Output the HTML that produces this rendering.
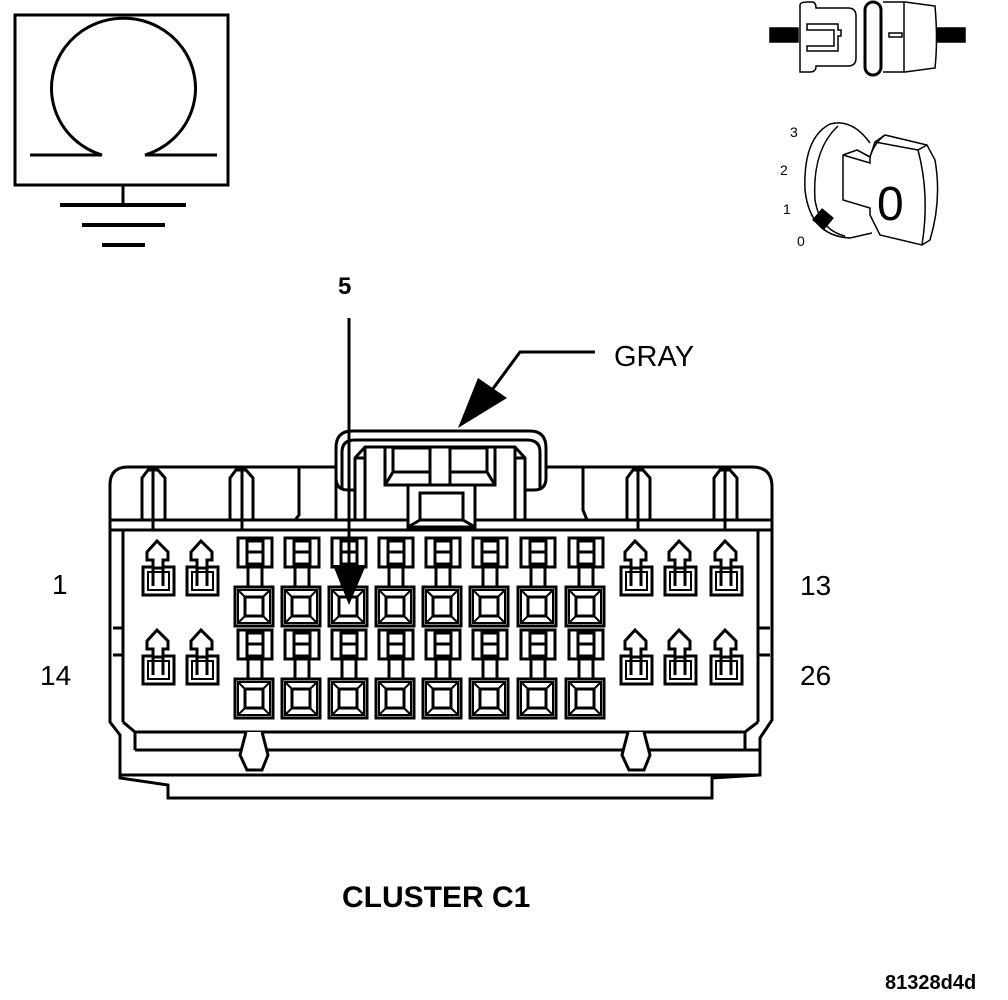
<!DOCTYPE html>
<html><head><style>html,body{margin:0;padding:0;background:#fff}svg{display:block}text{font-family:"Liberation Sans",sans-serif}</style></head><body>
<svg width="1008" height="1000" viewBox="0 0 1008 1000" xmlns="http://www.w3.org/2000/svg">
<defs>
<g id="pin" fill="none" stroke="#000" stroke-width="3">
<rect x="3" y="0" width="34" height="29" fill="#fff"/>
<rect x="12" y="3" width="16" height="23"/>
<line x1="12" y1="14" x2="28" y2="14"/>
<rect x="13" y="29" width="14" height="20" fill="#fff"/>
<rect x="0" y="49" width="38" height="39" fill="#fff"/>
<rect x="10" y="59" width="18" height="19"/>
<line x1="3" y1="52" x2="10" y2="59" stroke-width="2"/><line x1="35" y1="52" x2="28" y2="59" stroke-width="2"/>
<line x1="3" y1="85" x2="10" y2="78" stroke-width="2"/><line x1="35" y1="85" x2="28" y2="78" stroke-width="2"/>
<rect x="3" y="52" width="32" height="33" stroke-width="2"/>
</g>
<g id="lock" fill="none" stroke="#000" stroke-width="3">
<rect x="0" y="27" width="31" height="28" fill="#fff"/>
<rect x="5" y="32" width="21" height="18" stroke-width="2"/>
<path d="M10 46 V24 H20 V46"/>
<path d="M4 12 L14 1 L25 12 V20 H20 V28 H10 V20 H4 Z" fill="#fff"/>
</g>
</defs>
<g fill="none" stroke="#000" stroke-width="3">
<rect x="15" y="15" width="213" height="170"/>
<path d="M30 155 H102 A72 70 0 1 1 145 155 H217"/>
<line x1="123" y1="185" x2="123" y2="205"/>
<line x1="60" y1="205" x2="186" y2="205" stroke-width="4"/>
<line x1="82" y1="225" x2="165" y2="225" stroke-width="4"/>
<line x1="102" y1="245" x2="145" y2="245" stroke-width="4"/>
</g>
<!-- connector icon top right -->
<g fill="none" stroke="#000" stroke-width="1.5">
<rect x="770" y="28" width="28" height="14" fill="#000"/>
<rect x="937" y="28" width="28" height="14" fill="#000"/>
<path d="M800 5 Q800 2 808 2 H812 Q816 2 816 8 H848 Q856 8 856 16 V58 Q856 66 848 66 H816 Q816 72 810 72 H800 Z" fill="#fff"/>
<path d="M807 24 H838 V30 H841 V36 H838 V51 H807 V46 H834 V30 H807 Z"/>
<rect x="865" y="2" width="16" height="73" rx="8" stroke-width="3" fill="#fff"/>
<path d="M883 2 H905 L935 6 Q938 40 935 68 L905 72 H883"/>
<line x1="904" y1="2" x2="904" y2="72"/>
<rect x="889" y="33" width="13" height="4"/>
</g>
<!-- key -->
<g fill="none" stroke="#000" stroke-width="1.5">
<path d="M870 143 Q852 118 830 124 Q803 138 805 190 Q810 236 850 238 L872 233" fill="#fff"/>
<path d="M838 126 Q812 150 815 200 Q820 230 845 236"/>
<path d="M843 155 L857 150 L870 157 Q874 143 885 135 L927 145 L935 160 Q942 200 930 240 L922 245 L880 235 L870 215 L870 208 L843 200 Z" fill="#fff"/>
<path d="M857 150 L870 157 L870 163 L843 155"/>
<path d="M885 135 L875 142 L870 157"/>
<path d="M927 145 L918 150 Q930 195 922 245"/>
<path d="M875 142 L918 150"/>
<rect x="816" y="212" width="14" height="14" fill="#000" transform="rotate(40 823 219)"/>
</g>
<text x="877" y="220" font-size="48">0</text>
<text x="790" y="137" font-size="14">3</text>
<text x="780" y="175" font-size="14">2</text>
<text x="783" y="214" font-size="14">1</text>
<text x="797" y="246" font-size="14">0</text>

<!-- connector body -->
<g fill="none" stroke="#000" stroke-width="3">
<path d="M110 485 Q110 467 128 467 H752 Q772 467 772 487 V720 L760 738 V775 L712 778 V798 H168 V785 L120 778 V735 L110 722 Z" fill="#fff"/>
<line x1="123" y1="530" x2="123" y2="722"/>
<line x1="758" y1="530" x2="758" y2="722"/>
<line x1="110" y1="520" x2="772" y2="520"/>
<line x1="110" y1="530" x2="772" y2="530"/>
<path d="M123 722 L135 732 H745 L758 722"/>
<line x1="135" y1="732" x2="135" y2="750"/>
<line x1="745" y1="732" x2="745" y2="750"/>
<line x1="135" y1="750" x2="760" y2="750"/>
<line x1="120" y1="775" x2="760" y2="775"/>
<line x1="113" y1="628" x2="123" y2="628"/><line x1="113" y1="655" x2="123" y2="655"/>
<line x1="758" y1="628" x2="770" y2="628"/><line x1="758" y1="655" x2="770" y2="655"/>
<path d="M142 520 V478 L148 470 H158 L165 478 V520 M153 470 V530"/>
<path d="M230 520 V478 L236 470 H246 L253 478 V520 M242 470 V530"/>
<path d="M627 520 V478 L633 470 H643 L650 478 V520 M638 470 V530"/>
<path d="M714 520 V478 L720 470 H730 L737 478 V520 M725 470 V530"/>
<path d="M299 467 V515 L295 520"/>
<path d="M583 467 V510 L587 520"/>
<path d="M246 732 L240 755 L247 770 H262 L268 755 L262 732" fill="#fff"/>
<path d="M628 732 L622 755 L629 770 H644 L650 755 L644 732" fill="#fff"/>
<!-- latch -->
<path d="M336 520 V448 Q336 431 352 431 H530 Q546 431 546 448 V478 Q546 490 534 490 H525 V520 H355 V490 H348 Q336 490 336 478" fill="#fff"/>
<path d="M342 490 V452 Q342 440 355 440 H527 Q540 440 540 452 V490"/>
<path d="M355 520 V458 L365 447 H515 L525 458 V520"/>
<path d="M365 447 V520 M515 447 V520"/>
<path d="M365 458 H355 M515 458 H525"/>
<rect x="385" y="447" width="45" height="38" fill="#fff"/>
<rect x="393" y="448" width="37" height="24"/>
<path d="M385 485 L393 472"/>
<rect x="450" y="447" width="45" height="38" fill="#fff"/>
<rect x="450" y="448" width="37" height="24"/>
<path d="M495 485 L487 472"/>
<rect x="408" y="485" width="67" height="42" fill="#fff"/>
<rect x="420" y="493" width="43" height="27"/>
<path d="M408 527 L420 520 M475 527 L463 520"/>
</g>
<use href="#pin" x="235" y="538"/><use href="#pin" x="282" y="538"/><use href="#pin" x="329" y="538"/><use href="#pin" x="376" y="538"/>
<use href="#pin" x="423" y="538"/><use href="#pin" x="470" y="538"/><use href="#pin" x="518" y="538"/><use href="#pin" x="566" y="538"/>
<use href="#pin" x="235" y="630"/><use href="#pin" x="282" y="630"/><use href="#pin" x="329" y="630"/><use href="#pin" x="376" y="630"/>
<use href="#pin" x="423" y="630"/><use href="#pin" x="470" y="630"/><use href="#pin" x="518" y="630"/><use href="#pin" x="566" y="630"/>
<use href="#lock" x="143" y="540"/><use href="#lock" x="187" y="540"/><use href="#lock" x="621" y="540"/><use href="#lock" x="665" y="540"/><use href="#lock" x="711" y="540"/>
<use href="#lock" x="143" y="629"/><use href="#lock" x="187" y="629"/><use href="#lock" x="621" y="629"/><use href="#lock" x="665" y="629"/><use href="#lock" x="711" y="629"/>
<line x1="349" y1="318" x2="349" y2="570" stroke="#000" stroke-width="3"/>
<path d="M333 565 L366 565 L349 605 Z" fill="#000"/>
<path d="M595 352 H520 L492 390" fill="none" stroke="#000" stroke-width="3"/>
<path d="M478 378 L507 398 L458 428 Z" fill="#000"/>
<text x="338" y="294" font-size="24" font-weight="bold">5</text>
<text x="614" y="366" font-size="29">GRAY</text>
<text x="52" y="594" font-size="28">1</text>
<text x="40" y="685" font-size="28">14</text>
<text x="800" y="595" font-size="28">13</text>
<text x="800" y="685" font-size="28">26</text>
<text x="342" y="907" font-size="30" font-weight="bold">CLUSTER C1</text>
<text x="885" y="989" font-size="20" font-weight="bold">81328d4d</text>
</svg>
</body></html>
